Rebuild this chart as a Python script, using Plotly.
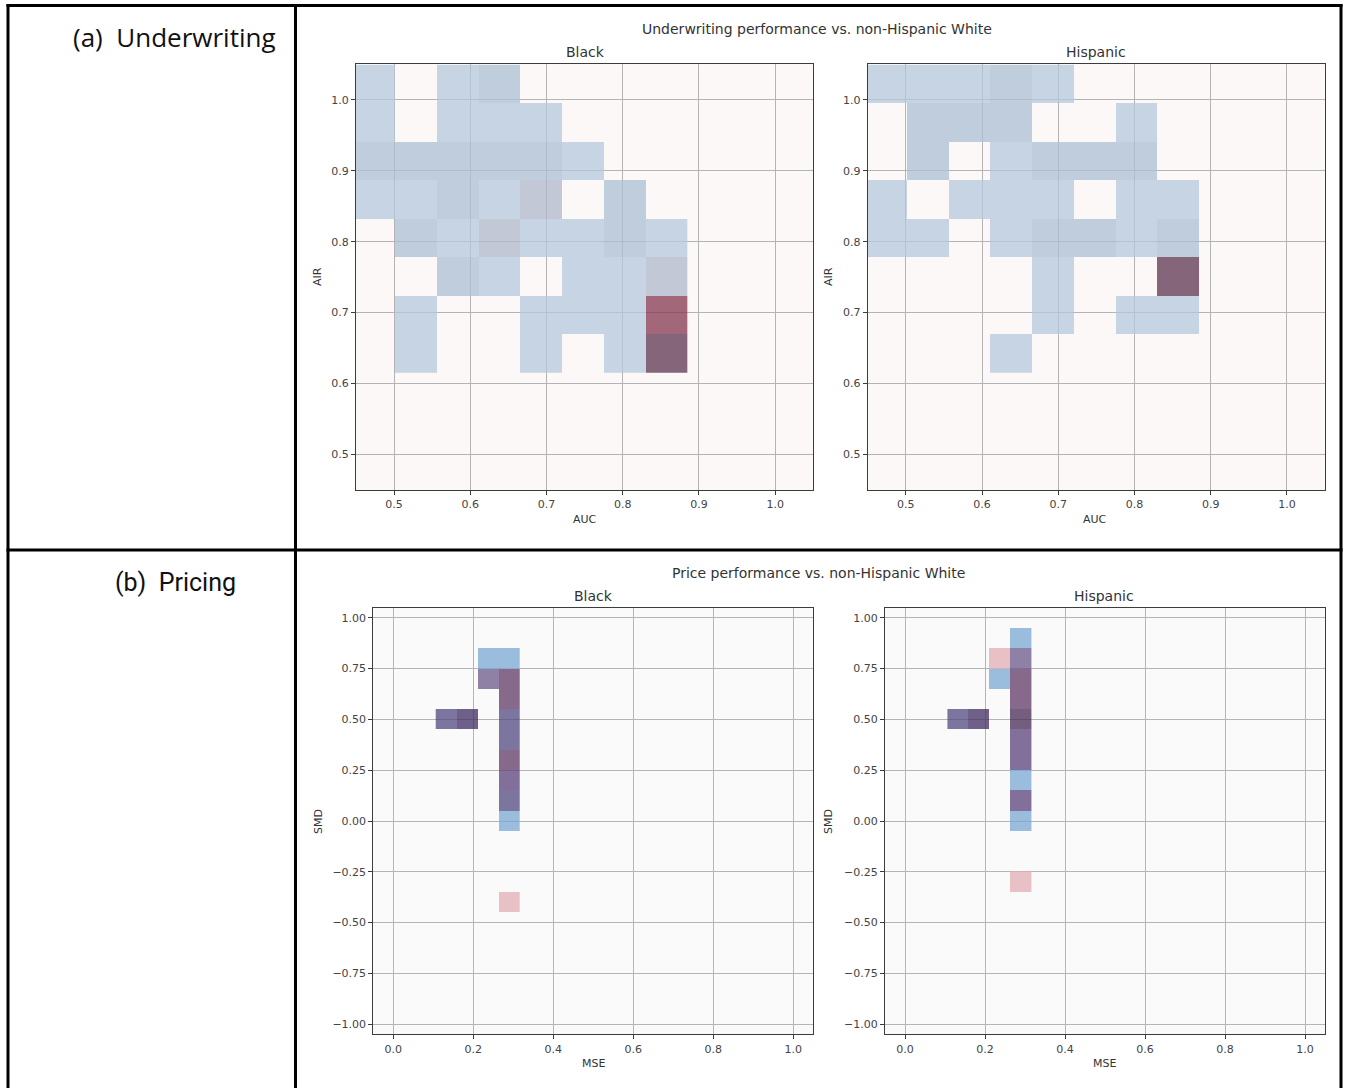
import plotly.graph_objects as go

W, H = 1345, 1088

# ---------------------------------------------------------------- data
# Bin centres of the 2-D histograms
AUC_BINS = [0.4739, 0.5287, 0.5835, 0.6383, 0.6931, 0.7479, 0.8027, 0.8575]
AIR_BINS = [1.0222, 0.9679, 0.9136, 0.8593, 0.8050, 0.7507, 0.6964, 0.6421]
MSE_BINS = [0.1323, 0.1848, 0.2373, 0.2898]
SMD_BINS = [0.9, 0.8, 0.7, 0.6, 0.5, 0.4, 0.3, 0.2, 0.1, 0.0, -0.1, -0.2, -0.3, -0.4]

# Shade class of every bin, rows listed from the top bin down (0 = empty bin)
UW_BLACK = [
    [1, 0, 1, 2, 0, 0, 0, 0],
    [1, 0, 1, 1, 1, 0, 0, 0],
    [2, 2, 2, 2, 2, 1, 0, 0],
    [1, 1, 2, 1, 3, 0, 2, 0],
    [0, 2, 1, 3, 1, 1, 2, 1],
    [0, 0, 2, 1, 0, 1, 1, 3],
    [0, 1, 0, 0, 1, 1, 1, 4],
    [0, 1, 0, 0, 1, 0, 1, 5],
]
UW_HISPANIC = [
    [1, 1, 1, 2, 1, 0, 0, 0],
    [0, 2, 2, 2, 0, 0, 1, 0],
    [0, 2, 0, 1, 2, 2, 2, 0],
    [1, 0, 1, 1, 1, 0, 1, 1],
    [1, 1, 0, 1, 2, 2, 1, 2],
    [0, 0, 0, 0, 1, 0, 0, 5],
    [0, 0, 0, 0, 1, 0, 1, 1],
    [0, 0, 0, 1, 0, 0, 0, 0],
]
PR_BLACK = [
    [0, 0, 0, 0],
    [0, 0, 1, 1],
    [0, 0, 5, 4],
    [0, 0, 0, 4],
    [3, 6, 0, 3],
    [0, 0, 0, 3],
    [0, 0, 0, 4],
    [0, 0, 0, 8],
    [0, 0, 0, 3],
    [0, 0, 0, 1],
    [0, 0, 0, 0],
    [0, 0, 0, 0],
    [0, 0, 0, 0],
    [0, 0, 0, 2],
]
PR_HISPANIC = [
    [0, 0, 0, 1],
    [0, 0, 2, 5],
    [0, 0, 1, 4],
    [0, 0, 0, 4],
    [3, 6, 0, 7],
    [0, 0, 0, 8],
    [0, 0, 0, 8],
    [0, 0, 0, 1],
    [0, 0, 0, 8],
    [0, 0, 0, 1],
    [0, 0, 0, 0],
    [0, 0, 0, 0],
    [0, 0, 0, 2],
    [0, 0, 0, 0],
]

# Displayed colour of each shade class (class 1 first)
UW_SHADES = ["#c6d4e3", "#c1cddd", "#c4c9d7", "#a3687a", "#856579"]
PR_SHADES = ["#9bbddd", "#e8c1c6", "#7b759f", "#87698b", "#8e81a5",
             "#6e6088", "#735e80", "#82709a"]

UW_BG = "#fcf8f8"
PR_BG = "#fafafa"
ALPHA = 0.75


# ---------------------------------------------------------------- helpers
def px_x(p):
    return p / W


def px_y(p):
    return 1 - p / H


def hex_rgb(h):
    h = h.lstrip("#")
    return [int(h[i:i + 2], 16) for i in (0, 2, 4)]


def unblend(target, bg, a):
    """Colour that gives `target` when painted with opacity `a` over `bg`."""
    t, b = hex_rgb(target), hex_rgb(bg)
    out = [max(0, min(255, round((tc - (1 - a) * bc) / a))) for tc, bc in zip(t, b)]
    return "rgb({},{},{})".format(*out)


def step_scale(shades, bg):
    n = len(shades)
    scale = []
    for i, c in enumerate(shades):
        col = unblend(c, bg, ALPHA)
        scale.append([i / n, col])
        scale.append([(i + 1) / n, col])
    return scale


def heat(xbins, ybins, grid, shades, bg, xa, ya):
    z = [[v if v else None for v in row] for row in grid][::-1]
    return go.Heatmap(
        x=xbins, y=ybins[::-1], z=z,
        colorscale=step_scale(shades, bg),
        zmin=0.5, zmax=len(shades) + 0.5,
        showscale=False, opacity=ALPHA, hoverinfo="skip",
        xaxis=xa, yaxis=ya,
    )


fig = go.Figure()
fig.add_trace(heat(AUC_BINS, AIR_BINS, UW_BLACK, UW_SHADES, UW_BG, "x", "y"))
fig.add_trace(heat(AUC_BINS, AIR_BINS, UW_HISPANIC, UW_SHADES, UW_BG, "x2", "y2"))
fig.add_trace(heat(MSE_BINS, SMD_BINS, PR_BLACK, PR_SHADES, PR_BG, "x3", "y3"))
fig.add_trace(heat(MSE_BINS, SMD_BINS, PR_HISPANIC, PR_SHADES, PR_BG, "x4", "y4"))

FONT = "DejaVu Sans"
axis_style = dict(
    showgrid=True, gridcolor="#b4b4b4", gridwidth=1,
    showline=True, linecolor="#3c3c3c", linewidth=1, mirror=True,
    ticks="outside", ticklen=4, tickcolor="#3c3c3c", tickwidth=1,
    tickfont=dict(family=FONT, size=11, color="#444444"),
    zeroline=False, fixedrange=True,
)

# plot-area rectangles in page pixels
uw_y = [px_y(490), px_y(64.3)]
pr_y = [px_y(1034.3), px_y(607.7)]
doms = {
    "": ([px_x(356), px_x(813.3)], uw_y),
    "2": ([px_x(867.7), px_x(1325)], uw_y),
    "3": ([px_x(373.3), px_x(813.3)], pr_y),
    "4": ([px_x(885), px_x(1325)], pr_y),
}

layout = dict(
    width=W, height=H, margin=dict(l=0, r=0, t=0, b=0),
    paper_bgcolor="white", plot_bgcolor="rgba(0,0,0,0)",
    showlegend=False, font=dict(family=FONT, color="#333333"),
)
for k, (xd, yd) in doms.items():
    uw = k in ("", "2")
    xa = dict(axis_style, domain=xd, anchor="y" + k)
    ya = dict(axis_style, domain=yd, anchor="x" + k)
    if uw:
        xa.update(range=[0.45, 1.05], tickvals=[0.5, 0.6, 0.7, 0.8, 0.9, 1.0], tickformat=".1f")
        ya.update(range=[0.45, 1.05], tickvals=[0.5, 0.6, 0.7, 0.8, 0.9, 1.0], tickformat=".1f")
    else:
        xa.update(range=[-0.05, 1.05], tickvals=[0, 0.2, 0.4, 0.6, 0.8, 1.0], tickformat=".1f")
        ya.update(range=[-1.05, 1.05],
                  tickvals=[-1, -0.75, -0.5, -0.25, 0, 0.25, 0.5, 0.75, 1.0], tickformat=".2f")
    layout["xaxis" + k] = xa
    layout["yaxis" + k] = ya
fig.update_layout(**layout)

# subplot backgrounds (beneath the grid)
for k in doms:
    bg = UW_BG if k in ("", "2") else PR_BG
    fig.add_shape(type="rect", xref=("x" + k if k else "x") + " domain",
                  yref=("y" + k if k else "y") + " domain",
                  x0=0, x1=1, y0=0, y1=1, fillcolor=bg, line_width=0, layer="below")

# table rules
rule = dict(color="black", width=3)
fig.add_shape(type="line", xref="paper", yref="paper",
              x0=px_x(6.5), x1=px_x(1342.5), y0=px_y(5.5), y1=px_y(5.5), line=rule)
fig.add_shape(type="line", xref="paper", yref="paper",
              x0=px_x(6.5), x1=px_x(1342.5), y0=px_y(550), y1=px_y(550), line=rule)
for xp in (8, 295.5, 1341):
    fig.add_shape(type="line", xref="paper", yref="paper",
                  x0=px_x(xp), x1=px_x(xp), y0=px_y(4), y1=px_y(1095), line=rule)


def note(text, x, y, size, color="#333333", family=FONT, angle=0):
    fig.add_annotation(text=text, xref="paper", yref="paper", x=px_x(x), y=px_y(y),
                       xanchor="center", yanchor="middle", showarrow=False,
                       textangle=angle, font=dict(family=family, size=size, color=color))


# row headers
note("(a)\u00a0\u00a0Underwriting", 174, 37, 26, "#111111", "Open Sans")
note("(b)\u00a0\u00a0Pricing", 175, 582, 25, "#111111", "Roboto")

# titles
note("Underwriting performance vs. non-Hispanic White", 817, 29, 14)
note("Black", 585, 52, 14)
note("Hispanic", 1096, 52, 14)
note("Price performance vs. non-Hispanic White", 818, 573, 14)
note("Black", 593, 596, 14)
note("Hispanic", 1104, 596, 14)

# axis titles
note("AUC", 585, 519, 11)
note("AUC", 1095, 519, 11)
note("AIR", 317, 277, 11, angle=-90)
note("AIR", 828, 277, 11, angle=-90)
note("MSE", 593, 1063, 11)
note("MSE", 1104, 1063, 11)
note("SMD", 318, 822, 11, angle=-90)
note("SMD", 828, 822, 11, angle=-90)

fig.write_html("out.html")
